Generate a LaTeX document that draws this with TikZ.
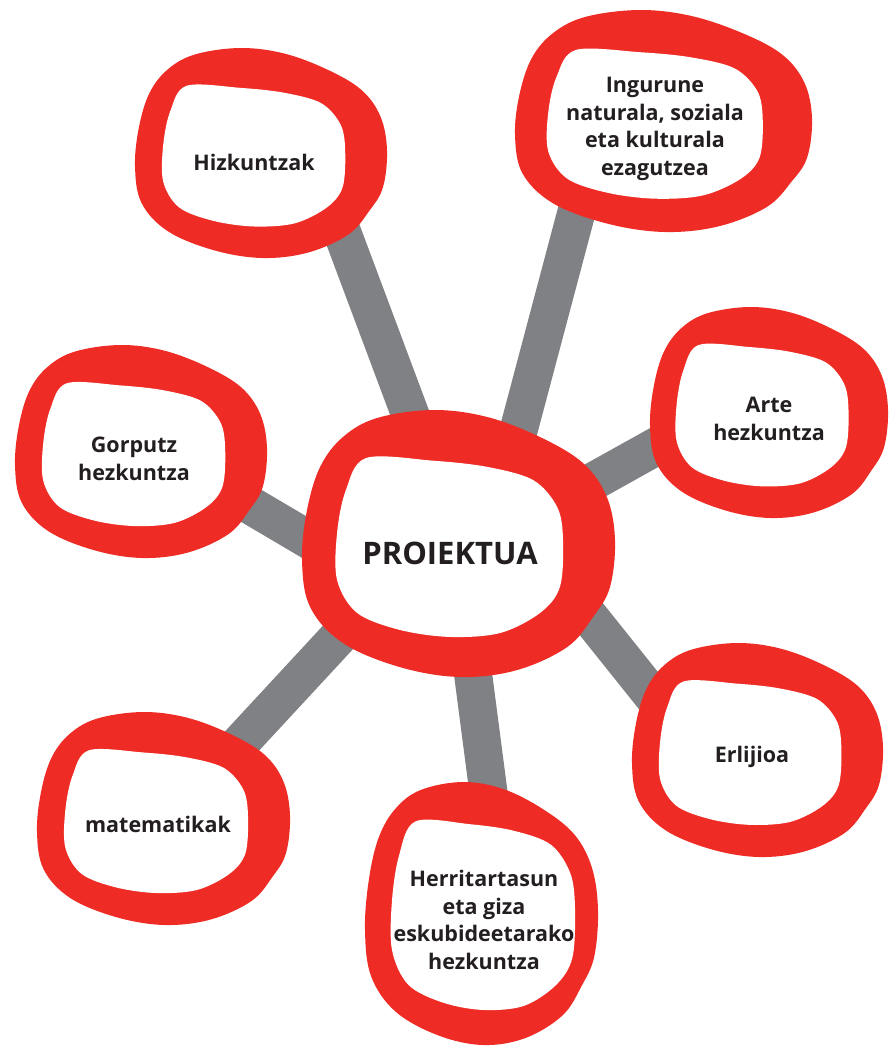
\documentclass[tikz,border=0pt]{standalone}
\usepackage{fontspec}
\setmainfont{Open Sans}
\definecolor{blobred}{HTML}{EE2B24}
\definecolor{bargray}{HTML}{808184}
\definecolor{txt}{HTML}{231F20}
% outer bbox (x,y,w,h) and inner hole bbox (x,y,w,h)
\newcommand\drawblobi[8]{%
  \begin{scope}[shift={(#1,#2)}, xscale=#3, yscale=#4]
    \fill[blobred] plot[smooth cycle, tension=0.6] coordinates {
      (0.131,0.101) (0.240,0.030) (0.419,0.0) (0.591,0.026) (0.760,0.101)
      (0.898,0.199) (0.974,0.326) (1.0,0.487) (0.984,0.663) (0.930,0.775)
      (0.847,0.888) (0.687,0.974) (0.505,1.0) (0.313,0.963) (0.131,0.873)
      (0.026,0.738) (0.0,0.562) (0.016,0.375) (0.058,0.213)};
  \end{scope}
  \begin{scope}[shift={(#5,#6)}, xscale=#7, yscale=#8]
    \fill[white] plot[smooth cycle, tension=0.55] coordinates {
      (0.129,0.007) (0.425,0.022) (0.663,0.056) (0.867,0.129) (0.974,0.279)
      (1.0,0.462) (0.986,0.723) (0.898,0.867) (0.722,0.978) (0.5,1.0)
      (0.278,0.961) (0.089,0.867) (0.0,0.684) (0.0,0.424) (0.039,0.185)};
  \end{scope}}
\newcommand\drawblob[4]{%
  \pgfmathsetmacro\bix{#1+0.112*#3}%
  \pgfmathsetmacro\biy{#2+0.175*#4}%
  \pgfmathsetmacro\biw{0.722*#3}%
  \pgfmathsetmacro\bih{0.675*#4}%
  \drawblobi{#1}{#2}{#3}{#4}{\bix}{\biy}{\biw}{\bih}}
\tikzset{
  bar/.style={draw=bargray, line width=38pt},
  lbl/.style={text=txt, align=center, font=\bfseries\fontsize{21.5}{27.5}\selectfont, inner sep=0pt},
  mainlbl/.style={text=txt, align=center, font=\bfseries\fontsize{31}{36}\selectfont, inner sep=0pt}
}
\begin{document}
\begin{tikzpicture}[x=1pt, y=-1pt]
\useasboundingbox[fill=white] (0,0) rectangle (892,1047);
% connector end points
\coordinate (hizA) at (330,200);   \coordinate (hizB) at (431,470);
\coordinate (ingA) at (585,180);   \coordinate (ingB) at (508,470);
\coordinate (artA) at (700,422);   \coordinate (artB) at (560,500);
\coordinate (gorA) at (200,475.6); \coordinate (gorB) at (380,581.8);
\coordinate (erlA) at (688,740);   \coordinate (erlB) at (560,580);
\coordinate (matA) at (180,808);   \coordinate (matB) at (380,592);
\coordinate (herA) at (496,850);   \coordinate (herB) at (466,620);
\draw[bar] (hizA) -- (hizB);
\draw[bar] (ingA) -- (ingB);
\draw[bar] (artA) -- (artB);
\draw[bar] (gorA) -- (gorB);
\draw[bar] (erlA) -- (erlB);
\draw[bar] (matA) -- (matB);
\draw[bar] (herA) -- (herB);
% blobs
\drawblob{302}{410}{313}{267}
\drawblob{135}{48}{252}{210}
\drawblob{515}{10}{297}{222}
\drawblob{650}{307}{238}{211}
\drawblob{15}{345}{252}{213}
\drawblob{632}{643}{251}{214}
\drawblob{37}{712}{253}{213}
\drawblobi{365}{782}{233}{263}{392}{820}{183}{190}
% labels
\node[mainlbl] (proj) at (450,553) {PROIEKTUA};
\node[lbl] (hiz) at (254,162) {Hizkuntzak};
\node[lbl] (ing) at (655,129) {Ingurune\\naturala, soziala\\eta kulturala\\ezagutzea};
\node[lbl] (gor) at (134,459) {Gorputz\\hezkuntza};
\node[lbl] (art) at (769,419) {Arte\\hezkuntza};
\node[lbl] (erl) at (752,757) {Erlijioa};
\node[lbl] (mat) at (158,824) {matematikak};
\node[lbl] (her) at (484,920) {Herritartasun\\eta giza\\eskubideetarako\\hezkuntza};
\end{tikzpicture}
\end{document}
